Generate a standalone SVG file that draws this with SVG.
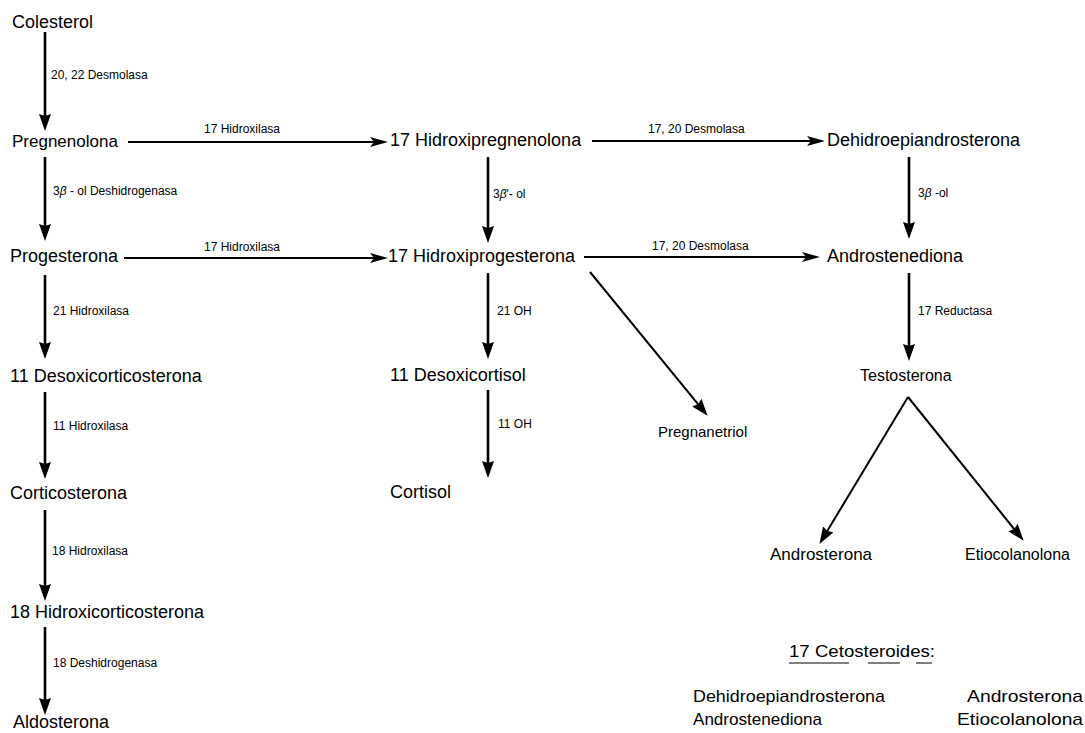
<svg xmlns="http://www.w3.org/2000/svg" width="1085" height="733" viewBox="0 0 1085 733">
<style>
text{font-family:"Liberation Sans",Arial,Helvetica,sans-serif;fill:#000}
.n{font-size:18px}
.s{font-size:16px}
.l{font-size:12px}
.c{font-size:17px}
.v{stroke:#000;stroke-width:2.6;fill:none}
.h{stroke:#000;stroke-width:1.8;fill:none}
.d{stroke:#000;stroke-width:2;fill:none}
.u{stroke:#000;stroke-width:1}
</style>
<defs>
<marker id="av" markerUnits="userSpaceOnUse" markerWidth="17" markerHeight="12" refX="8" refY="6" orient="auto">
<path d="M0,0 L17,6 L0,12 L2,6 Z" fill="#000"/>
</marker>
<marker id="ah" markerUnits="userSpaceOnUse" markerWidth="18" markerHeight="10" refX="9" refY="5" orient="auto">
<path d="M0,0 L18,5 L0,10 L4,5 Z" fill="#000"/>
</marker>
</defs>
<rect width="1085" height="733" fill="#fff"/>
<g id="connectors">
<line class="v" x1="45" y1="32" x2="45" y2="122" marker-end="url(#av)"/>
<line class="v" x1="45" y1="157" x2="45" y2="232" marker-end="url(#av)"/>
<line class="v" x1="45" y1="275" x2="45" y2="350" marker-end="url(#av)"/>
<line class="v" x1="45" y1="392" x2="45" y2="470" marker-end="url(#av)"/>
<line class="v" x1="45" y1="510" x2="45" y2="592" marker-end="url(#av)"/>
<line class="v" x1="45" y1="627" x2="45" y2="706" marker-end="url(#av)"/>
<line class="h" x1="128" y1="142" x2="379" y2="142" marker-end="url(#ah)"/>
<line class="h" x1="124" y1="258" x2="379" y2="258" marker-end="url(#ah)"/>
<line class="v" x1="488" y1="157" x2="488" y2="234" marker-end="url(#av)"/>
<line class="v" x1="488" y1="273" x2="488" y2="350" marker-end="url(#av)"/>
<line class="v" x1="488" y1="390" x2="488" y2="469" marker-end="url(#av)"/>
<line class="d" x1="590" y1="272" x2="701.9" y2="408.8" marker-end="url(#av)"/>
<line class="h" x1="592" y1="141" x2="816" y2="141" marker-end="url(#ah)"/>
<line class="h" x1="584" y1="257" x2="811" y2="257" marker-end="url(#ah)"/>
<line class="v" x1="909" y1="157" x2="909" y2="230" marker-end="url(#av)"/>
<line class="v" x1="909" y1="273" x2="909" y2="352" marker-end="url(#av)"/>
<line class="d" x1="908" y1="397" x2="824.1" y2="536.2" marker-end="url(#av)"/>
<line class="d" x1="908" y1="397" x2="1018" y2="533.8" marker-end="url(#av)"/>
</g>
<g id="edge-labels">
<text class="l" x="51" y="79">20, 22 Desmolasa</text>
<text class="l" x="204" y="133">17 Hidroxilasa</text>
<text class="l" x="53" y="195">3<tspan font-style="italic">β</tspan> - ol Deshidrogenasa</text>
<text class="l" x="204" y="251">17 Hidroxilasa</text>
<text class="l" x="53" y="315">21 Hidroxilasa</text>
<text class="l" x="53" y="430">11 Hidroxilasa</text>
<text class="l" x="52" y="555">18 Hidroxilasa</text>
<text class="l" x="53" y="667">18 Deshidrogenasa</text>
<text class="l" x="493" y="198">3<tspan font-style="italic">β</tspan>'- ol</text>
<text class="l" x="497" y="315">21 OH</text>
<text class="l" x="498" y="428">11 OH</text>
<text class="l" x="648" y="133">17, 20 Desmolasa</text>
<text class="l" x="652" y="250">17, 20 Desmolasa</text>
<text class="l" x="918" y="197">3<tspan font-style="italic">β</tspan> -ol</text>
<text class="l" x="918" y="315">17 Reductasa</text>
</g>
<g id="n-colesterol"><text class="n" x="12" y="28">Colesterol</text></g>
<g id="n-pregnenolona"><text class="n" x="12" y="147" style="font-size:17px">Pregnenolona</text></g>
<g id="n-progesterona"><text class="n" x="10" y="262">Progesterona</text></g>
<g id="n-11-desoxicorticosterona"><text class="n" x="10" y="382">11 Desoxicorticosterona</text></g>
<g id="n-corticosterona"><text class="n" x="10" y="499">Corticosterona</text></g>
<g id="n-18-hidroxicorticosterona"><text class="n" x="10" y="618">18 Hidroxicorticosterona</text></g>
<g id="n-aldosterona"><text class="n" x="13" y="728">Aldosterona</text></g>
<g id="n-17-hidroxipregnenolona"><text class="n" x="390" y="146">17 Hidroxipregnenolona</text></g>
<g id="n-17-hidroxiprogesterona"><text class="n" x="388" y="262">17 Hidroxiprogesterona</text></g>
<g id="n-11-desoxicortisol"><text class="n" x="390" y="381">11 Desoxicortisol</text></g>
<g id="n-cortisol"><text class="n" x="390" y="498">Cortisol</text></g>
<g id="n-pregnanetriol"><text class="s" x="658" y="437" style="font-size:15px">Pregnanetriol</text></g>
<g id="n-dehidroepiandrosterona"><text class="n" x="827" y="146">Dehidroepiandrosterona</text></g>
<g id="n-androstenediona"><text class="n" x="827" y="262">Androstenediona</text></g>
<g id="n-testosterona"><text class="s" x="860" y="381">Testosterona</text></g>
<g id="n-androsterona"><text class="s" x="770" y="560" style="font-size:17px">Androsterona</text></g>
<g id="n-etiocolanolona"><text class="s" x="965" y="560">Etiocolanolona</text></g>
<g id="cetosteroides">
<text class="c" x="789" y="657" textLength="146" lengthAdjust="spacingAndGlyphs">17 Cetosteroides:</text>
<line class="u" x1="789" y1="663" x2="849" y2="663"/>
<line class="u" x1="868" y1="663" x2="900" y2="663"/>
<line class="u" x1="916" y1="663" x2="932" y2="663"/>
<text class="c" x="693" y="702" textLength="192" lengthAdjust="spacingAndGlyphs">Dehidroepiandrosterona</text>
<text class="c" x="693" y="725" textLength="129" lengthAdjust="spacingAndGlyphs">Androstenediona</text>
<text class="c" x="1083" y="702" text-anchor="end" textLength="116" lengthAdjust="spacingAndGlyphs">Androsterona</text>
<text class="c" x="1083" y="725" text-anchor="end" textLength="126" lengthAdjust="spacingAndGlyphs">Etiocolanolona</text>
</g>
</svg>
